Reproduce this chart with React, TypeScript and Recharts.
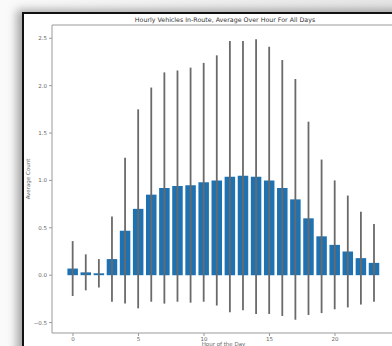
import {
  ComposedChart,
  Bar,
  ErrorBar,
  XAxis,
  YAxis,
  ReferenceLine,
} from "recharts";

// hour of the day 0..23
const hours = [0, 1, 2, 3, 4, 5, 6, 7, 8, 9, 10, 11, 12, 13, 14, 15, 16, 17, 18, 19, 20, 21, 22, 23];
// mean vehicles in-route per hour
const avgCount = [
  0.07, 0.03, 0.02, 0.17, 0.47, 0.7, 0.85, 0.92, 0.94, 0.95, 0.98, 1.0,
  1.04, 1.05, 1.04, 1.0, 0.92, 0.8, 0.6, 0.41, 0.32, 0.25, 0.18, 0.13,
];
// std dev (error bar half-length)
const stdDev = [
  0.29, 0.19, 0.15, 0.45, 0.77, 1.05, 1.13, 1.22, 1.22, 1.24, 1.26, 1.32,
  1.43, 1.42, 1.45, 1.41, 1.35, 1.27, 1.02, 0.81, 0.68, 0.59, 0.49, 0.41,
];
const xTicks = [0, 5, 10, 15, 20];
const yTicks = [-0.5, 0, 0.5, 1, 1.5, 2, 2.5];

const FONT = "DejaVu Sans, sans-serif";
const BAR_BLUE = "#1f72b1";
const SPINE = "#9a9a9a";
const TEXT = "#666";

const fmtY = (v: number) => (v < 0 ? "\u2212" + Math.abs(v).toFixed(1) : v.toFixed(1));

export default function App() {
  const data = hours.map((h, i) => ({ hour: h, avg: avgCount[i], err: stdDev[i] }));

  return (
    <div
      style={{
        position: "fixed",
        left: 0,
        top: 0,
        width: 392,
        height: 346,
        overflow: "hidden",
        background: "linear-gradient(90deg, #fafafa 0%, #e6e6e6 100%)",
        fontFamily: FONT,
      }}
    >
      {/* slide frame */}
      <div
        style={{
          position: "absolute",
          left: 22,
          top: 12,
          width: 420,
          height: 380,
          border: "2px solid #111",
          background: "#fff",
          boxShadow: "-5px -2px 9px rgba(0,0,0,0.35)",
        }}
      />
      <div
        style={{
          position: "absolute",
          left: 0,
          top: 16,
          width: 450,
          textAlign: "center",
          fontSize: 6.3,
          color: "#333",
          whiteSpace: "nowrap",
        }}
      >
        Hourly Vehicles In-Route, Average Over Hour For All Days
      </div>
      <div style={{ position: "absolute", left: 0, top: 0 }}>
        <ComposedChart
          width={400}
          height={346}
          data={data}
          margin={{ top: 25, right: 5, left: 0, bottom: 0 }}
        >
          <XAxis
            dataKey="hour"
            type="number"
            domain={[-1.6, 24.58]}
            ticks={xTicks}
            allowDataOverflow
            stroke={SPINE}
            tickSize={3}
            tickMargin={1}
            height={13}
            tick={{ fontSize: 5.5, fill: TEXT, stroke: "none", fontFamily: FONT }}
            label={{
              value: "Hour of the Day",
              position: "insideBottom",
              offset: 0,
              fontSize: 5.5,
              fill: TEXT,
              fontFamily: FONT,
            }}
          />
          <YAxis
            type="number"
            domain={[-0.61, 2.64]}
            ticks={yTicks}
            allowDataOverflow
            width={52}
            stroke={SPINE}
            tickSize={3}
            tickMargin={2}
            tickFormatter={fmtY}
            tick={{ fontSize: 5.5, fill: TEXT, stroke: "none", fontFamily: FONT }}
            label={{
              value: "Average Count",
              angle: -90,
              position: "insideLeft",
              offset: 28,
              fontSize: 5.5,
              fill: TEXT,
              fontFamily: FONT,
              style: { textAnchor: "middle" },
            }}
          />
          <ReferenceLine y={2.64} stroke={SPINE} ifOverflow="extendDomain" />
          <Bar dataKey="avg" fill={BAR_BLUE} barSize={10.5} isAnimationActive={false}>
            <ErrorBar dataKey="err" width={0} stroke="#6a6a6a" strokeWidth={1.8} direction="y" />
          </Bar>
        </ComposedChart>
      </div>
    </div>
  );
}
